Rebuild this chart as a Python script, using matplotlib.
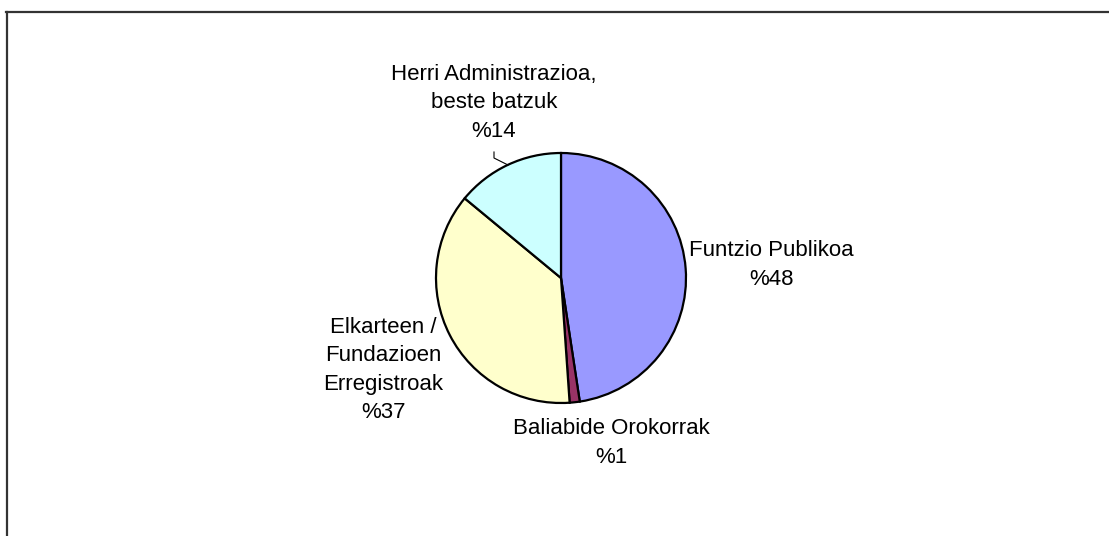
import matplotlib.pyplot as plt
from matplotlib.lines import Line2D

plt.rc('font', family='Liberation Sans', size=16)

labels = ['Funtzio Publikoa', 'Baliabide Orokorrak',
          'Elkarteen /\nFundazioen\nErregistroak', 'Herri Administrazioa,\nbeste batzuk']
values = [47.6, 1.3, 37.1, 14.0]
pct_labels = ['%48', '%1', '%37', '%14']
colors = ['#9999FF', '#993366', '#FFFFCC', '#CCFFFF']

W, H = 1109, 536
fig = plt.figure(figsize=(W / 100.0, H / 100.0), dpi=100)
ax = fig.add_axes([0, 0, 1, 1])
ax.set_xlim(0, W)
ax.set_ylim(0, H)
ax.set_aspect('equal')
ax.axis('off')

ax.pie(values, colors=colors, startangle=90, counterclock=False,
       center=(561, H - 278), radius=125,
       wedgeprops=dict(edgecolor='black', linewidth=1.6))
ax.set_xlim(0, W)
ax.set_ylim(0, H)

# label positions (pixels from top-left), as Excel placed them
label_pos = [(771, 265), (611, 443), (383, 370), (494, 103)]
for lab, pct, (x, y) in zip(labels, pct_labels, label_pos):
    ax.text(x, H - y, lab + '\n' + pct, ha='center', va='center',
            linespacing=1.45, color='black')

# leader line for the small-label slice
ax.plot([494, 494, 508], [H - 152, H - 158, H - 165], color='black', linewidth=0.8)

# chart area border (only left and top visible)
fig.add_artist(Line2D([7 / W, 7 / W], [0, 1 - 11.5 / H], color='#333333', linewidth=1.6))
fig.add_artist(Line2D([6 / W, 1], [1 - 11.5 / H, 1 - 11.5 / H], color='#333333', linewidth=1.6))

plt.savefig('out.png', dpi=100)
